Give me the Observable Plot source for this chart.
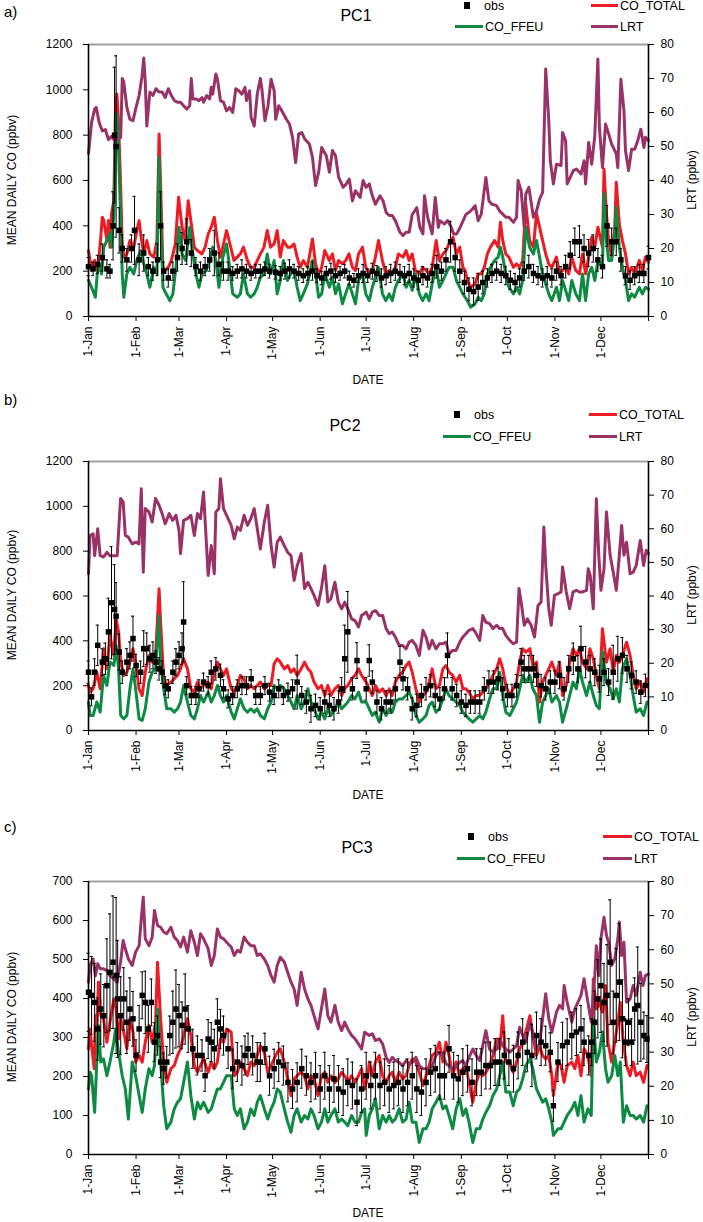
<!DOCTYPE html>
<html>
<head>
<meta charset="utf-8">
<script src="https://cdn.jsdelivr.net/npm/d3@7"></script>
<script src="https://cdn.jsdelivr.net/npm/@observablehq/plot@0.6"></script>
<style>
  html, body { margin: 0; padding: 0; background: #fff; }
  #fig { position: relative; width: 703px; height: 1222px; font-family: "Liberation Sans", Arial, sans-serif; color: #000; overflow: hidden; }
  #fig svg { position: absolute; left: 0; }
  .t { position: absolute; white-space: nowrap; line-height: 1; }
  .ln { position: absolute; height: 3px; }
</style>
</head>
<body>
<div id="fig"></div>
<script>
// ---------- axis categories ----------
const monthDays = [0, 31, 59, 90, 120, 151, 181, 212, 243, 273, 304, 334];
const monthLabels = ["1-Jan", "1-Feb", "1-Mar", "1-Apr", "1-May", "1-Jun", "1-Jul", "1-Aug", "1-Sep", "1-Oct", "1-Nov", "1-Dec"];
const lrtTicks = [0, 10, 20, 30, 40, 50, 60, 70, 80];
const seriesNames = ["obs", "CO_TOTAL", "CO_FFEU", "LRT"];

// ---------- PC1 ----------
const pc1LRT = [[0,48],[2,57],[4,61],[5,61.5],[7,57],[9,54.6],[11,55],[13,52],[15,53],[17,51.7],[19,52],[21,52.7],[22,70],[23,69],[25,61.5],[27,58],[29,57.6],[31,61.5],[33,65],[35,71],[36,76],[37,69],[38,56],[40,66],[42,65],[44,67],[46,66],[48,66],[50,64.4],[52,67],[54,65],[56,63.5],[58,63],[60,63],[62,62],[64,61],[66,62],[67,70],[68,64],[70,64],[72,63.5],[74,64.4],[75,63],[77,65],[79,64],[80,67.4],[81,65.4],[83,71.3],[84,70],[86,63.5],[88,63],[90,60.5],[92,61.5],[94,60],[96,67],[98,66.4],[100,65.4],[102,67.4],[103,63.5],[105,66.4],[106,58.5],[108,56],[110,65.4],[112,70],[113,67],[115,57.6],[117,62],[119,69.8],[121,66.4],[122,58],[124,62],[126,60.5],[129,58],[131,56.6],[133,52.7],[135,45.3],[137,53.7],[139,54.1],[141,52.2],[144,50.7],[146,46.8],[148,38.5],[150,42.4],[152,49.7],[155,47.3],[157,42.4],[159,48.8],[161,47.3],[163,41],[166,38],[168,39],[170,40.4],[172,34],[174,37],[177,35],[179,40],[181,38],[183,39],[185,35.5],[187,33],[190,35.5],[192,34],[194,30.6],[196,29.7],[198,29.7],[200,28.2],[203,24.8],[205,23.8],[207,24.8],[209,24.8],[211,30],[214,32],[216,26.2],[218,24.3],[219,35.5],[221,29.2],[224,24.3],[226,35],[228,26.2],[229,28.2],[232,27.2],[234,28.2],[236,26.7],[238,24.3],[240,24.3],[242,26],[246,30],[249,31],[252,32.6],[254,28.2],[256,30.1],[259,40.9],[261,34],[263,33],[266,32.6],[268,31],[270,30.1],[272,29.2],[274,29.2],[277,27.7],[279,29.2],[280,40],[282,37],[284,26.2],[285,36],[287,38],[290,29.2],[292,31],[294,34.5],[296,36.5],[298,72.8],[300,57.6],[301,45.8],[303,39],[305,44.8],[308,44.4],[309,54.1],[311,51.7],[312,39],[314,40.9],[316,42.9],[318,43.4],[321,41.9],[323,45.8],[324,39],[326,51.2],[328,44.8],[330,53.2],[332,75.7],[333,55.6],[335,43.8],[337,56.6],[339,53.7],[341,50.7],[344,47.8],[345,43.8],[347,69.8],[349,60.5],[350,48.8],[352,42.9],[354,49.2],[356,49.2],[358,51.7],[360,55.1],[362,49.7],[363,52.7],[365,51.7]];
const pc1Total = [[0,291],[1,247],[2,203],[4,247],[6,203],[7,276],[8,350],[9,438],[10,423],[12,335],[13,423],[14,306],[15,453],[16.5,511],[17.6,923],[18.5,982],[19.6,850],[20.7,629],[22,320],[23,262],[25,276],[27,335],[29.5,306],[31.5,379],[33,423],[34,364],[36,276],[38,335],[40,276],[42.5,262],[44.6,335],[46,805],[47,585],[48.5,217],[50,203],[52,217],[54,247],[56.6,320],[58.7,526],[61,394],[63,335],[65,511],[67,408],[69,306],[71,291],[74,276],[76,306],[78,364],[80,394],[82,438],[84,335],[86,262],[88,320],[90,379],[92.7,306],[94.8,247],[96.9,262],[99,276],[101,306],[103.6,247],[105.7,217],[108,217],[110,247],[112,276],[114.4,306],[116.5,379],[118.7,306],[121,320],[123,379],[125,262],[127,335],[129.7,306],[131.8,306],[134,320],[136,262],[138,217],[140,247],[142.7,217],[146,342],[148,232],[150,188],[152,217],[154,291],[157,247],[159,276],[161,203],[163,247],[165.5,232],[167.6,247],[169.8,276],[172,217],[174,203],[176,276],[178.6,306],[180.7,217],[183,188],[185,203],[187,262],[189,335],[191.6,247],[193.8,188],[196,203],[198,188],[200,217],[202,276],[205,262],[207,291],[209,247],[211,276],[213,203],[215.6,188],[217.8,217],[220,203],[222,188],[224,217],[226.6,335],[228.7,247],[231,276],[233,291],[235,320],[237.6,350],[239.8,276],[242,306],[244,217],[245.5,203],[247,159],[249,129],[252,144],[254,188],[256,188],[258,217],[260,276],[262,306],[264.6,335],[267,306],[268.5,416],[270,335],[272,276],[274,262],[277,217],[279,232],[281,217],[283,247],[285,497],[287.5,335],[290,306],[292,453],[294,394],[296,335],[298,276],[300,232],[302,217],[305,262],[307,188],[309,203],[311,217],[313,188],[315,262],[317.6,203],[320,188],[322,276],[324,188],[326,262],[328,350],[330,306],[332,394],[335,306],[336,651],[337.6,453],[339,335],[341,262],[343,394],[344,592],[346,408],[348,335],[350,276],[352,188],[354,217],[356,188],[359,247],[361,203],[363,262],[365,240]];
const pc1FFEU = [[0,159],[2,129],[4.5,85],[5.7,188],[7,232],[8.5,188],[10,306],[12,335],[14,364],[15,306],[16.5,453],[17.6,776],[18.5,894],[19.6,732],[20.7,482],[22,188],[23,85],[25,188],[27,217],[29.5,188],[31.5,247],[34,291],[36,232],[38,188],[40,129],[42.5,217],[44.6,188],[46,703],[47,482],[48.5,129],[50.6,100],[53,70],[55,100],[57,217],[59,394],[61,276],[63.4,247],[66,394],[68,276],[70,188],[72,129],[74,188],[76.8,203],[79,247],[81,306],[83,247],[85,129],[87.6,262],[90,320],[92,217],[94,100],[97,85],[99,100],[101,188],[103.6,100],[105.7,85],[108,100],[110,129],[112,173],[114.4,188],[116.5,276],[118.7,188],[121,247],[123,100],[125,159],[127,247],[129.7,159],[131.8,188],[134,203],[136,129],[138,70],[140,100],[142.7,144],[146,247],[148,188],[150,85],[152,100],[154,188],[157,129],[159,173],[161,100],[163,144],[165.5,56],[167.6,100],[169.8,144],[172,100],[174,56],[176,159],[178.6,188],[180.7,100],[183,70],[185,129],[187,173],[189,217],[191.6,100],[193.8,70],[196,100],[198,70],[200,129],[202,159],[205,188],[207,129],[209,159],[211,115],[213,188],[215.6,100],[217.8,70],[220,100],[222,70],[224,144],[226.6,217],[228.7,129],[231,159],[233,188],[235,217],[237.6,217],[239.8,159],[242,129],[244,100],[245.5,85],[247,70],[249,41],[252,56],[254,85],[256,70],[258,100],[260,188],[262,217],[264.6,247],[267,262],[268.5,306],[270,262],[272,188],[274,129],[277,100],[279,129],[281,100],[283,159],[285,394],[287.5,306],[290,276],[292,335],[294,262],[296,188],[298,144],[300,100],[302,70],[305,129],[307,70],[309,159],[311,115],[313,70],[315,159],[317.6,100],[320,70],[322,188],[324,70],[326,188],[328,217],[330,159],[332,247],[335,217],[336,541],[337.6,335],[339,247],[341,247],[343,364],[344,482],[346,306],[348,217],[350,159],[352,70],[354,100],[356,85],[359,129],[361,100],[363,129],[365,120]];
const pc1Obs = [[0,220,40],[3,210,30],[6,230,40],[9,260,60],[12,210,40],[14,200,30],[16,400,150],[17,800,300],[18,750,400],[20,380,100],[22,300,60],[25,250,50],[28,300,60],[30,380,150],[33,250,70],[36,280,80],[39,220,40],[42,200,40],[45,250,70],[47,400,150],[49,200,40],[52,170,40],[55,200,40],[58,260,60],[61,300,70],[64,330,100],[67,280,60],[70,220,40],[73,200,40],[76,220,40],[79,250,50],[82,280,100],[85,230,50],[88,200,40],[91,200,40],[94,190,30],[97,200,30],[100,210,40],[103,200,30],[106,190,30],[109,200,30],[112,200,30],[115,210,30],[118,200,30],[122,195,30],[125,190,30],[128,200,35],[131,210,40],[134,200,30],[137,190,30],[140,180,30],[143,190,30],[146,200,40],[149,180,30],[152,170,30],[155,190,30],[158,200,35],[161,180,30],[164,190,30],[167,200,30],[170,170,30],[173,160,30],[176,180,30],[179,190,40],[182,180,30],[185,200,35],[188,190,35],[191,170,40],[194,180,40],[197,190,40],[200,200,40],[203,190,40],[206,180,40],[209,190,40],[212,170,40],[215,160,40],[218,180,40],[221,170,40],[224,190,40],[227,220,50],[230,200,40],[233,250,50],[236,330,90],[239,260,60],[242,200,50],[245,150,50],[248,120,50],[251,110,60],[254,130,60],[257,150,50],[260,170,40],[263,190,40],[266,200,40],[269,190,40],[272,180,40],[275,160,40],[278,150,40],[281,170,40],[284,200,40],[287,220,50],[290,190,40],[293,180,40],[296,170,40],[299,180,40],[302,170,40],[305,200,40],[308,180,40],[311,220,50],[314,270,60],[317,330,60],[320,330,70],[323,300,60],[326,280,60],[329,300,60],[332,250,50],[335,220,50],[338,400,90],[341,330,60],[344,330,60],[347,250,50],[350,180,40],[353,160,40],[356,180,40],[359,190,40],[362,190,40],[365,260,50]];

// ---------- PC2 ----------
const pc2LRT = [[0,46.6],[1,58],[3,58.5],[4,52],[6,60],[7.6,52],[9.8,51.6],[12,53],[14,52],[16.5,52],[18.7,52],[20.9,69],[22.6,68],[24,58],[26,57.5],[28.5,55.5],[30.7,56],[32.9,55.5],[34.4,71.9],[35.7,47.1],[37,66],[39.4,65],[41.5,62],[43.7,69],[46,67],[48,64.5],[50,61.5],[52.6,64.5],[54.8,62.5],[57,64],[59,59.5],[60,52.6],[62,62.5],[64.5,63],[66.7,64],[69,58],[71,64.5],[73,63],[75,70.9],[78,46.1],[80,55],[82,46.6],[83,65],[85,66],[86,74.9],[88,66],[90,64],[93,61],[95,57],[97,60.5],[99,59.5],[101.4,64],[103.6,61],[105.8,63],[108,66],[110,60],[112,54],[114.6,62],[116.8,67],[119,55],[121,48.6],[123,56],[125,57.5],[127.6,55],[129.8,53],[132,52],[134,44.6],[136,49],[138.6,52.6],[140.8,42.2],[143,44.1],[145,42.2],[147,40.2],[149.6,37.2],[151.8,42.2],[154,49],[156,38.2],[158,39.2],[160.6,44.1],[162.8,38.2],[165,36.2],[167,38.2],[169,36.2],[171.5,33.2],[173.7,32.7],[176,30.8],[178,34.2],[181,35.2],[183,33.2],[185,35.2],[187,35.7],[189.5,34.2],[191.7,34.2],[194,30.3],[196,28.8],[198,29.3],[200,27.8],[202.5,25.3],[204.7,25.3],[207,24.3],[209,26.3],[211,26.8],[213.4,25.3],[215.6,22.3],[218,29.8],[220,27.8],[222,24.3],[224,26.8],[226.5,24.3],[228.7,25.8],[231,25.8],[233,26.3],[235,22.8],[237.4,23.8],[239.6,23.8],[242,26.3],[244,27.8],[246,28.8],[248,29.8],[250.5,30.3],[252.7,28.8],[255,26.8],[257,34.2],[259,32.2],[261.4,31.8],[263.6,30.3],[266,31.3],[268,30.3],[270,30.3],[272,28.3],[274.6,26.8],[276.8,25.8],[279,26.3],[280.6,42.2],[282,38.2],[284,31.3],[286,33.2],[288.5,31.3],[290.7,27.8],[293,37.2],[295,38.2],[296.8,60.5],[298,49.1],[300,36.2],[301.6,31.3],[303.7,40.2],[306,40.7],[308,41.2],[309,48.6],[311.4,41.2],[313.6,36.2],[315.8,41.2],[318,41.7],[320,41.2],[322,41.2],[324.6,41.7],[325.7,48.1],[327,46.1],[329,36.2],[331,68.9],[332.6,52.1],[334,41.7],[336,48.1],[337.6,65],[340,52.1],[342,47.1],[344,41.7],[346,52.1],[347.5,61],[349,52.1],[350.7,56],[353,46.6],[355,47.1],[357,49.1],[359.6,56.5],[361.8,49.1],[363.5,53.6],[365,52.6]];
const pc2Total = [[0,201],[1,171],[3,186],[5.4,260],[7.6,186],[9.8,365],[12,275],[14,424],[16.5,335],[18,498],[19.6,439],[21,305],[23,246],[25,260],[27,305],[29,365],[30.7,305],[33,186],[35,156],[37,260],[39.4,335],[41.5,305],[43.7,335],[46,632],[47,484],[49,231],[51,201],[53.7,216],[55.9,231],[58,246],[60,275],[62,320],[64.5,275],[66.7,186],[69,171],[71,216],[73,186],[75,201],[78,216],[80,186],[82,260],[84,305],[86,275],[88,246],[90,275],[93,186],[95,171],[97,201],[99,246],[101.4,231],[103.6,186],[105.8,201],[108,186],[110,201],[112,216],[114.6,186],[116.8,201],[119,201],[121,298],[123,320],[125,305],[127.6,275],[129.8,290],[132,260],[134,275],[136,246],[138.6,275],[140.8,305],[143,275],[145,260],[147,216],[149.6,186],[151.8,201],[154,156],[156,201],[158,156],[160.6,186],[162.8,201],[165,156],[167,186],[169,201],[171.5,231],[173.7,246],[176,275],[178,246],[181,216],[183,186],[185,156],[187,201],[189.5,171],[191.7,186],[194,156],[196,186],[198,156],[200,216],[202.5,246],[204.7,260],[207,290],[209,305],[211,260],[213.4,186],[215.6,127],[218,156],[220,171],[222,216],[224,275],[226.5,186],[228.7,201],[231,275],[233,290],[235,260],[237.4,246],[239.6,216],[242,246],[244,186],[246,186],[248,171],[250.5,141],[252.7,156],[255,156],[257,171],[259,186],[261.4,216],[263.6,246],[266,275],[268,320],[270,275],[272,201],[274.6,156],[276.8,186],[279,216],[281,305],[283,365],[285,350],[287.7,365],[289.6,290],[292,305],[294,127],[296,216],[298,246],[300,275],[302,305],[305,246],[307,305],[309,156],[311.4,201],[313.6,305],[315.8,365],[318,335],[320,365],[322,305],[324.6,275],[326.8,365],[329,320],[331,246],[333,186],[335,454],[337.6,305],[340,365],[342,260],[344,335],[346,305],[348,335],[350.7,394],[353,335],[355,246],[357,186],[359.6,216],[361.8,171],[364,231]];
const pc2FFEU = [[0,127],[1,67],[3,67],[5.4,127],[7.6,82],[9.8,246],[12,201],[14,305],[16.5,290],[18,379],[19.6,275],[21,67],[23,52],[25,67],[27,186],[29,275],[30.7,186],[33,52],[35,45],[37,97],[39.4,216],[41.5,260],[43.7,275],[46,513],[47,305],[49,186],[51,97],[53.7,97],[55.9,82],[58,97],[60,127],[62,201],[64.5,127],[66.7,67],[69,52],[71,97],[73,156],[75,127],[78,171],[80,127],[82,156],[84,201],[86,156],[88,127],[90,156],[93,82],[95,52],[97,97],[99,141],[101.4,97],[103.6,82],[105.8,97],[108,82],[110,97],[112,67],[114.6,52],[116.8,97],[119,127],[121,201],[123,186],[125,201],[127.6,186],[129.8,156],[132,127],[134,97],[136,156],[138.6,97],[140.8,127],[143,186],[145,127],[147,97],[149.6,52],[151.8,82],[154,52],[156,97],[158,67],[160.6,97],[162.8,127],[165,97],[167,112],[169,127],[171.5,156],[173.7,141],[176,171],[178,127],[181,127],[183,97],[185,67],[187,82],[189.5,37],[191.7,97],[194,67],[196,97],[198,82],[200,127],[202.5,141],[204.7,141],[207,156],[209,171],[211,141],[213.4,67],[215.6,37],[218,52],[220,67],[222,112],[224,127],[226.5,82],[228.7,97],[231,141],[233,186],[235,156],[237.4,141],[239.6,127],[242,112],[244,82],[246,67],[248,52],[250.5,37],[252.7,52],[255,67],[257,52],[259,82],[261.4,141],[263.6,186],[266,186],[268,260],[270,156],[272,82],[274.6,67],[276.8,97],[279,127],[281,186],[283,246],[285,216],[287.7,246],[289.6,186],[292,156],[294,37],[296,127],[298,156],[300,186],[302,127],[305,156],[307,127],[309,37],[311.4,97],[313.6,156],[315.8,216],[318,186],[320,275],[322,216],[324.6,156],[326.8,216],[329,156],[331,112],[333,97],[335,350],[337.6,216],[340,186],[342,141],[344,186],[346,127],[348,275],[350.7,320],[353,246],[355,156],[357,82],[359.6,97],[361.8,67],[364,127]];
const pc2Obs = [[0,260,50],[2,150,40],[4,260,60],[6,380,90],[9,305,60],[11,320,70],[13,440,150],[15,570,250],[17,540,200],[18,510,150],[20,350,80],[22,260,50],[25,305,60],[27,335,60],[29,410,100],[31,290,50],[34,260,50],[36,365,80],[38,365,70],[40,320,60],[42,335,60],[44,305,50],[46,275,50],[48,260,50],[50,200,40],[52,186,40],[55,260,50],[57,305,60],[59,335,60],[61,365,70],[62,484,180],[64,200,40],[67,156,40],[70,156,40],[72,186,40],[75,216,40],[78,200,40],[80,260,50],[83,275,50],[86,246,50],[88,186,40],[91,141,40],[94,156,40],[97,186,40],[100,200,40],[103,200,40],[106,231,40],[109,156,40],[112,156,40],[115,200,40],[118,171,40],[121,156,40],[124,186,40],[127,156,40],[130,171,40],[133,186,40],[136,216,120],[139,156,40],[142,127,50],[145,97,60],[148,112,50],[151,97,50],[154,127,50],[157,112,50],[160,97,50],[163,127,50],[165,186,50],[167,320,150],[169,440,180],[172,186,50],[175,312,80],[181,186,50],[183,312,70],[185,216,50],[188,127,50],[191,97,50],[194,127,50],[197,127,50],[200,186,50],[203,305,70],[205,231,50],[208,186,50],[211,97,50],[214,112,50],[217,156,50],[220,186,50],[223,200,50],[226,156,50],[229,141,50],[232,186,50],[234,335,100],[237,186,50],[240,156,50],[243,127,50],[246,112,50],[249,127,50],[252,127,50],[255,127,50],[258,186,50],[261,216,50],[264,216,50],[267,231,50],[270,186,50],[273,156,50],[276,156,50],[279,200,50],[282,305,60],[284,275,60],[287,275,60],[290,275,60],[292,246,50],[295,200,50],[298,186,50],[301,216,50],[304,216,50],[307,246,60],[310,186,50],[313,275,60],[316,320,70],[319,275,60],[321,365,100],[324,305,70],[327,275,60],[330,260,60],[333,231,60],[336,260,60],[339,216,60],[342,260,120],[345,320,100],[348,335,80],[351,275,60],[354,246,60],[357,216,50],[360,171,50],[363,201,50]];

// ---------- PC3 ----------
const pc3LRT = [[0,50.5],[1,55.4],[3,57.3],[4.5,52.4],[6,55.9],[7.6,54.4],[9.8,54.4],[12,53.9],[14,52.4],[16.5,51.5],[18.7,50.5],[20.9,56.4],[22.6,62.7],[24,60.3],[26,57.3],[28.5,55.4],[30.7,59.3],[33,61.2],[34.4,69.1],[35.7,75.4],[37,63.2],[39.4,61.2],[41.5,63.7],[43,71.5],[45,67.1],[47,66.6],[49,65.2],[51,64.7],[53.7,66.6],[55.9,63.7],[58,62.7],[60,60.8],[62,63.7],[64.5,59.3],[66.7,65.6],[69,62.2],[71,58.3],[73,64.7],[75,63.2],[78,60.3],[80,55.4],[82,58.3],[84,66.1],[86,63.7],[88,63.2],[90,62.2],[93,60.8],[95,58.3],[97,59.8],[99,59.3],[101.4,63.7],[103.6,62.2],[105.8,61.2],[108,61.2],[110,58.3],[112,58.8],[114.6,57.3],[116.8,55.4],[119,52.4],[121,50.5],[123,55.4],[125,57.8],[127.6,56.4],[129.8,53.4],[132,50.5],[134,48.5],[136,43.7],[138.6,53.4],[140.8,48.5],[143,45.6],[145,43.7],[147,40.7],[149.6,36.8],[151.8,42.7],[154,48.5],[156,40.7],[158,38.8],[160.6,43.7],[162.8,38.8],[165,36.3],[167,38.8],[169,36.8],[171.5,34.9],[173.7,33.9],[176,32.4],[178,30.9],[180,35.8],[183,34.9],[185,35.4],[187,33.4],[189.5,33.9],[191.7,32.4],[194,28.5],[196,27],[198,28.5],[200,27.5],[202.5,27],[204.7,26],[207,27.5],[209,26.6],[211,27],[213.4,28.5],[215.6,26],[218,25.1],[220,25.1],[222,25.1],[224,26],[226.5,29],[228.7,30],[231,29.5],[233,26.6],[235,26],[237.4,25.1],[239.6,26],[242,27],[244,27.5],[246,26],[248,28.5],[250.5,30.9],[252.7,29],[255,27.5],[257,31.9],[259,36.3],[261.4,30.9],[263.6,30],[266,30.9],[268,33.9],[270,31.9],[272,30.9],[274.6,30],[276.8,30.9],[279,31.9],[281,37.3],[283,34.9],[285,32.9],[287.7,38.8],[289.6,35.8],[292,30.9],[294,32.4],[296,39.8],[298,47.1],[300,39.8],[302,35.8],[305,41.7],[307,43.7],[309,42.7],[310,49.5],[312,44.6],[315,38.8],[317,42.7],[319,44.6],[321,46.6],[323,51.5],[325.5,44.6],[327.7,38.8],[330,52.4],[331,61.2],[332.6,52.4],[334,63.2],[336,69.5],[337.6,64.2],[339,62.2],[341,55.4],[343,57.3],[345,63.2],[346,68.1],[347.5,58.3],[349,62.2],[350.7,44.6],[353,45.6],[355,49.5],[357,46.6],[359.6,53.4],[361.4,49.5],[363,52.4],[365,52.9]];
const pc3Total = [[0,271],[1,322],[2,279],[3.7,220],[4.5,356],[5.4,322],[6.5,442],[8,356],[9.8,348],[12,288],[14,339],[16.5,399],[18,373],[19.6,296],[21,348],[23,314],[25,271],[27,348],[29,314],[30.7,237],[33,254],[35,237],[37,288],[39.4,331],[41.5,288],[43.7,339],[45,493],[47,348],[49,237],[51,185],[53.7,220],[55.9,228],[58,254],[60,271],[62,305],[64.5,348],[66.7,305],[69,228],[71,211],[73,228],[75,245],[78,211],[80,237],[82,220],[84,237],[86,296],[88,288],[90,322],[93,314],[95,202],[97,211],[99,237],[101.4,220],[103.6,202],[105.8,237],[108,228],[110,254],[112,279],[114.6,262],[116.8,211],[119,228],[121,245],[123,262],[125,271],[127.6,237],[129.8,194],[132,151],[134,194],[136,202],[138.6,211],[140.8,202],[143,168],[145,202],[147,194],[149.6,151],[151.8,202],[154,211],[156,185],[158,202],[160.6,185],[162.8,194],[165,211],[167,202],[169,185],[171.5,202],[173.7,185],[176,202],[178,220],[180,168],[182,200],[183,237],[185,202],[187,237],[189.5,254],[191.7,202],[194,185],[196,202],[198,211],[200,185],[202.5,211],[204.7,194],[207,202],[209,228],[211,245],[213.4,237],[215.6,211],[218,177],[220,202],[222,228],[224,254],[226.5,262],[228.7,288],[231,237],[233,288],[235,254],[237.4,202],[239.6,237],[242,202],[244,220],[246,228],[248,185],[250.5,134],[252.7,185],[255,211],[257,202],[259,211],[261.4,228],[263.6,254],[266,296],[268,271],[270,356],[272,237],[274.6,237],[276.8,211],[279,237],[281,271],[283,288],[285,314],[287.7,356],[289.6,305],[292,254],[294,279],[296,254],[298,245],[300,254],[302,202],[303,151],[306,237],[308,228],[310,185],[312,228],[315,237],[317,220],[319,254],[321,202],[323,271],[325.5,254],[327.7,202],[329,450],[331,373],[333,390],[335,365],[337,433],[338.6,288],[341,237],[343,288],[345,339],[346.6,390],[348.6,288],[350.7,228],[353,202],[355,237],[357,202],[359.6,211],[361.8,185],[364,228]];
const pc3FFEU = [[0,168],[1,211],[2,202],[4,108],[5.4,237],[6.5,331],[8,237],[9.8,245],[12,202],[14,237],[16.5,288],[17.6,322],[19.6,262],[22,202],[24,168],[26,91],[28.5,237],[30.7,202],[33,151],[35,108],[37,168],[39.4,220],[41.5,202],[43,228],[45,373],[47,237],[49,125],[51,66],[53.7,83],[55.9,117],[58,134],[60,143],[62,185],[64.5,237],[66.7,151],[69,91],[71,134],[73,117],[75,134],[78,108],[80,117],[82,143],[84,168],[86,168],[88,185],[90,202],[93,202],[95,117],[97,100],[99,117],[101.4,66],[103.6,83],[105.8,117],[108,100],[110,134],[112,151],[114.6,117],[116.8,91],[119,117],[121,134],[123,168],[125,160],[127.6,117],[129.8,83],[132,57],[134,100],[136,117],[138.6,83],[140.8,100],[143,91],[145,117],[147,100],[149.6,66],[151.8,83],[154,117],[156,83],[158,100],[160.6,117],[162.8,83],[165,91],[167,83],[169,74],[171.5,100],[173.7,83],[176,83],[178,108],[180,117],[181,49],[183,100],[185,117],[187,143],[189.5,66],[191.7,100],[194,83],[196,100],[198,83],[200,91],[202.5,117],[204.7,83],[207,91],[209,134],[211,83],[213.4,83],[215.6,31],[218,66],[220,66],[222,83],[224,117],[226.5,134],[228.7,151],[231,117],[233,125],[235,100],[237.4,66],[239.6,117],[242,143],[244,100],[246,117],[248,83],[250.5,31],[252.7,66],[255,66],[257,91],[259,108],[261.4,125],[263.6,151],[266,168],[268,202],[270,237],[272,160],[274.6,160],[276.8,125],[279,160],[281,168],[283,194],[285,228],[287.7,245],[289.6,220],[292,168],[294,151],[296,134],[298,143],[300,117],[302,83],[303,49],[306,66],[308,66],[310,83],[312,100],[315,117],[317,134],[319,100],[321,151],[323,83],[325.5,117],[327.7,100],[329,348],[331,237],[333,262],[335,314],[337,220],[338.6,185],[341,202],[343,254],[345,202],[346.6,237],[348.6,83],[350.7,125],[353,100],[355,100],[357,91],[359.6,100],[361.8,83],[364,125]];
const pc3Obs = [[0,416,100],[2,408,100],[4,390,100],[6,322,80],[8,373,90],[10,356,80],[12,433,120],[14,467,150],[16,493,170],[18,459,200],[19,399,150],[21,356,100],[23,399,80],[25,339,80],[27,373,80],[29,348,70],[31,254,40],[33,322,60],[35,408,60],[37,390,80],[39,322,60],[41,390,60],[43,288,50],[45,305,50],[47,237,40],[49,220,40],[51,237,40],[53,305,50],[55,339,80],[57,373,100],[59,356,80],[61,331,60],[63,373,90],[65,322,60],[68,271,50],[71,254,50],[74,254,40],[76,202,40],[78,296,50],[80,288,50],[82,271,50],[84,339,60],[86,322,50],[88,305,50],[91,271,50],[94,220,50],[97,237,50],[100,228,50],[102,254,50],[104,271,40],[107,254,50],[110,237,50],[112,237,50],[115,271,40],[118,202,50],[121,220,50],[124,237,50],[127,228,50],[130,185,50],[133,168,50],[136,185,50],[139,220,50],[142,202,50],[145,185,50],[148,202,60],[151,168,60],[154,202,60],[157,168,60],[160,194,60],[163,168,60],[166,160,60],[169,185,60],[172,177,60],[175,134,60],[178,168,60],[181,202,60],[184,177,60],[187,202,60],[190,177,60],[193,185,60],[196,168,60],[199,177,60],[202,185,60],[205,168,60],[208,185,60],[211,202,60],[214,168,60],[217,160,60],[220,185,60],[223,211,60],[226,220,60],[229,202,60],[232,202,60],[235,271,60],[238,202,60],[241,194,60],[244,211,60],[247,220,60],[250,185,60],[253,211,60],[256,211,60],[259,228,60],[262,228,60],[265,237,60],[268,237,60],[271,254,60],[274,237,60],[277,220,60],[280,254,60],[283,288,60],[286,262,50],[289,254,80],[292,305,60],[295,288,60],[298,279,50],[301,262,50],[303,125,40],[306,237,50],[309,279,60],[312,288,60],[315,305,60],[318,314,60],[321,322,60],[323,288,60],[326,254,50],[328,288,60],[330,339,80],[332,399,100],[334,433,120],[336,390,100],[338,408,130],[340,493,160],[342,339,80],[344,408,120],[346,442,150],[348,348,100],[350,288,60],[352,339,60],[354,288,60],[356,373,80],[358,382,150],[360,339,100],[362,305,60],[364,296,60]];

// ---------- styling ----------
const RED = "#ed1c24", GREEN = "#0f8a43", PURPLE = "#993366";
const FONT = "'Liberation Sans', Arial, Helvetica, sans-serif";
const fig = document.getElementById("fig");

function panel(p) {
  const k = p.yMax / 80;
  const svg = Plot.plot({
    width: 703, height: p.height,
    marginLeft: 88, marginRight: 55, marginTop: p.marginTop, marginBottom: p.marginBottom,
    x: {domain: [0, 365]},
    y: {domain: [0, p.yMax]},
    style: {fontFamily: FONT, fontSize: "12px", color: "#000", background: "transparent", overflow: "visible"},
    marks: [
      Plot.ruleY([p.yMax], {stroke: "#a0a0a0", strokeWidth: 2}),
      Plot.line(p.total, {x: d => d[0], y: d => d[1], stroke: RED, strokeWidth: 3, curve: "linear"}),
      Plot.line(p.ffeu, {x: d => d[0], y: d => d[1], stroke: GREEN, strokeWidth: 3, curve: "linear"}),
      Plot.line(p.lrt, {x: d => d[0], y: d => d[1] * k, stroke: PURPLE, strokeWidth: 3, curve: "linear"}),
      Plot.ruleX(p.obs, {x: d => d[0], y1: d => Math.max(0, d[1] - d[2]), y2: d => d[1] + d[2], stroke: "#000", strokeWidth: 1}),
      Plot.ruleY(p.obs, {y: d => d[1] + d[2], x1: d => d[0] - 1, x2: d => d[0] + 1, stroke: "#000", strokeWidth: 1}),
      Plot.ruleY(p.obs, {y: d => Math.max(0, d[1] - d[2]), x1: d => d[0] - 1, x2: d => d[0] + 1, stroke: "#000", strokeWidth: 1}),
      Plot.dot(p.obs, {x: d => d[0], y: d => d[1], symbol: "square", r: 3.1, fill: "#000", stroke: "none"}),
      Plot.axisY({ticks: d3.range(0, p.yMax + 1, p.yStep), tickFormat: v => String(v), tickSize: 5, tickPadding: 11, label: null, fontSize: 12}),
      Plot.axisY({anchor: "right", ticks: lrtTicks.map(v => v * k), tickFormat: v => String(Math.round(v / k)), tickSize: 5, tickPadding: 7, label: null, fontSize: 12}),
      Plot.axisX({ticks: monthDays.concat([365]), tickFormat: d => { const i = monthDays.indexOf(d); return i >= 0 ? monthLabels[i] : ""; }, tickRotate: -90, tickSize: 5, tickPadding: 5, label: null, fontSize: 12}),
      Plot.ruleX([0, 365], {stroke: "#000", strokeWidth: 1.6}),
      Plot.ruleY([0], {stroke: "#000", strokeWidth: 1.6})
    ]
  });
  svg.style.top = p.top + "px";
  fig.appendChild(svg);
}

function txt(s, x, y, o = {}) {
  const d = document.createElement("div");
  d.className = "t";
  d.textContent = s;
  d.style.fontSize = (o.size || 12) + "px";
  d.style.left = x + "px";
  d.style.top = y + "px";
  let tf = o.center ? "translate(-50%,-50%)" : "translate(0,-50%)";
  if (o.rotate) tf += " rotate(" + o.rotate + "deg)";
  d.style.transform = tf;
  fig.appendChild(d);
}
function swatch(x1, x2, y, color) {
  const d = document.createElement("div");
  d.className = "ln";
  d.style.left = x1 + "px"; d.style.width = (x2 - x1) + "px";
  d.style.top = (y - 1.5) + "px"; d.style.background = color;
  fig.appendChild(d);
}
function square(x, y) {
  const d = document.createElement("div");
  d.style.position = "absolute";
  d.style.left = (x - 3) + "px"; d.style.top = (y - 3.5) + "px";
  d.style.width = "6px"; d.style.height = "7px"; d.style.background = "#000";
  fig.appendChild(d);
}
function legend(L) {
  square(L.mx, L.r1);
  txt(seriesNames[0], L.mx + 17, L.r1 + 1, {size: 12.5});
  swatch(L.rx1, L.rx2, L.r1, RED);
  txt(seriesNames[1], L.rx2 + 2, L.r1 + 1, {size: 12.5});
  swatch(L.gx1, L.gx2, L.r2, GREEN);
  txt(seriesNames[2], L.gx2 + 2, L.r2 + 1, {size: 12.5});
  swatch(L.rx1, L.rx2, L.r2, PURPLE);
  txt(seriesNames[3], L.rx2 + 2, L.r2 + 1, {size: 12.5});
}

// panels
panel({top: 0, height: 400, marginTop: 44, marginBottom: 84, yMax: 1200, yStep: 200, total: pc1Total, ffeu: pc1FFEU, lrt: pc1LRT, obs: pc1Obs});
panel({top: 410, height: 400, marginTop: 51, marginBottom: 80, yMax: 1200, yStep: 200, total: pc2Total, ffeu: pc2FFEU, lrt: pc2LRT, obs: pc2Obs});
panel({top: 830, height: 392, marginTop: 51, marginBottom: 68, yMax: 700, yStep: 100, total: pc3Total, ffeu: pc3FFEU, lrt: pc3LRT, obs: pc3Obs});

// panel letters and titles
txt("a)", 4, 11, {size: 15});
txt("b)", 4, 399, {size: 15});
txt("c)", 4, 826, {size: 15});
txt("PC1", 356, 16, {size: 16, center: true});
txt("PC2", 345, 426, {size: 16, center: true});
txt("PC3", 357, 848, {size: 16, center: true});

// legends
legend({mx: 467, r1: 5, r2: 26, rx1: 591, rx2: 618, gx1: 455, gx2: 483});
legend({mx: 457, r1: 414, r2: 436, rx1: 589, rx2: 617, gx1: 443, gx2: 471});
legend({mx: 471, r1: 836, r2: 858, rx1: 603, rx2: 632, gx1: 457, gx2: 485});

// axis titles
[[380, 180], [795, 595], [1213, 1017]].forEach(([dy, cy]) => {
  txt("DATE", 368, dy, {size: 12, center: true});
  txt("MEAN DAILY CO (ppbv)", 12, cy, {size: 12, center: true, rotate: -90});
  txt("LRT (ppbv)", 692, cy, {size: 12, center: true, rotate: -90});
});
</script>
</body>
</html>
